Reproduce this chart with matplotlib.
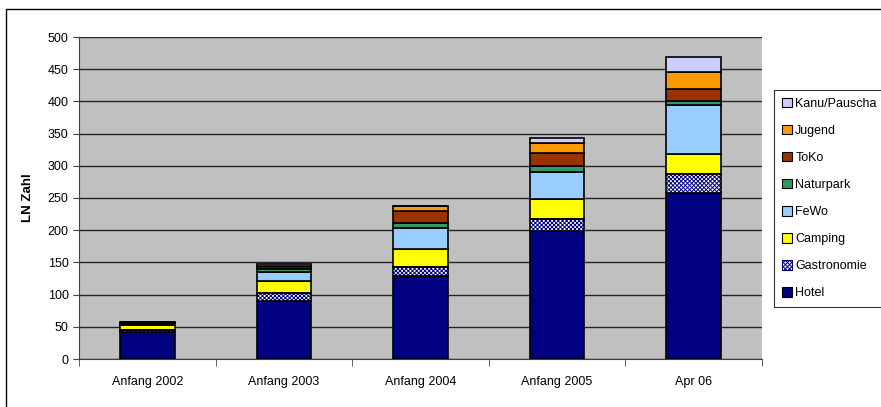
import numpy as np
import matplotlib
matplotlib.use("Agg")
import matplotlib.pyplot as plt
from matplotlib.patches import Patch, Rectangle

plt.rcParams['font.family'] = ['Liberation Sans', 'DejaVu Sans']
plt.rcParams['hatch.linewidth'] = 0.7

# Daten
kategorien = ['Anfang 2002', 'Anfang 2003', 'Anfang 2004', 'Anfang 2005', 'Apr 06']
hotel = [42, 90, 129, 198, 257]
gastronomie = [3, 12, 14, 19, 30]
camping = [8, 19, 28, 32, 32]
fewo = [2, 14, 33, 42, 75]
naturpark = [1, 4, 7, 9, 6]
toko = [1, 3, 19, 20, 19]
jugend = [1, 3, 8, 16, 26]
kanu = [0, 2, 0, 7, 24]

serien = [
    ('Hotel', hotel, '#000080'),
    ('Gastronomie', gastronomie, 'white'),
    ('Camping', camping, '#FFFF00'),
    ('FeWo', fewo, '#99CCFF'),
    ('Naturpark', naturpark, '#339966'),
    ('ToKo', toko, '#993300'),
    ('Jugend', jugend, '#FF9900'),
    ('Kanu/Pauscha', kanu, '#CCCCFF'),
]

fig = plt.figure(figsize=(8.81, 4.07), dpi=100)
ax = fig.add_axes([79 / 881, 1 - 359 / 407, (762 - 79) / 881, (359 - 37) / 407])
ax.set_facecolor('#C0C0C0')

x = np.arange(len(kategorien))
unten = np.zeros(len(kategorien))
handles = []
for name, werte, farbe in serien:
    werte = np.array(werte, dtype=float)
    if name == 'Gastronomie':
        # Schraffur in Dunkelblau, Rand separat in Schwarz
        ax.bar(x, werte, 0.4, bottom=unten, color='white', edgecolor='#000080',
               hatch='xxxxxxxx', linewidth=0, zorder=3)
        ax.bar(x, werte, 0.4, bottom=unten, fill=False, edgecolor='black',
               linewidth=1.2, zorder=4)
        handles.append(Patch(facecolor='white', edgecolor='#000080', hatch='xxxxxxxx',
                             linewidth=0.8, label=name))
    else:
        ax.bar(x, werte, 0.4, bottom=unten, color=farbe, edgecolor='black',
               linewidth=1.2, zorder=3)
        handles.append(Patch(facecolor=farbe, edgecolor='black', linewidth=0.8,
                             label=name))
    unten += werte

ax.set_xlim(-0.5, len(kategorien) - 0.5)
ax.set_ylim(0, 500)
ax.set_yticks(np.arange(0, 501, 50))
ax.yaxis.grid(True, color='black', linewidth=1.0, alpha=0.8)
ax.set_axisbelow(True)

ax.set_xticks(x)
ax.set_xticklabels(kategorien, fontsize=9)
ax.tick_params(axis='x', which='major', length=0, pad=12)
ax.set_xticks(np.arange(-0.5, len(kategorien)), minor=True)
ax.tick_params(axis='x', which='minor', length=5, color='#404040')
ax.tick_params(axis='y', labelsize=9, length=4, color='#404040')

for s in ['top', 'right']:
    ax.spines[s].set_visible(False)
ax.spines['left'].set_color('#404040')
ax.spines['bottom'].set_color('#404040')

ax.set_ylabel('LN Zahl', fontsize=9.5, fontweight='bold', labelpad=10)

leg = fig.legend(handles=handles[::-1], loc='upper left',
                 bbox_to_anchor=(774 / 881, 1 - 90 / 407), fontsize=9,
                 frameon=True, fancybox=False, edgecolor='black',
                 handlelength=0.8, handleheight=0.8, handletextpad=0.3,
                 labelspacing=1.2, borderpad=0.6, borderaxespad=0)
leg.get_frame().set_linewidth(0.8)

# Rahmen um das Diagramm
fig.patches.append(Rectangle((6 / 881, -0.1), 1.0, 1 - 9 / 407 + 0.1,
                             transform=fig.transFigure, fill=False,
                             edgecolor='black', linewidth=1.0))

fig.savefig('out.png', dpi=100)
